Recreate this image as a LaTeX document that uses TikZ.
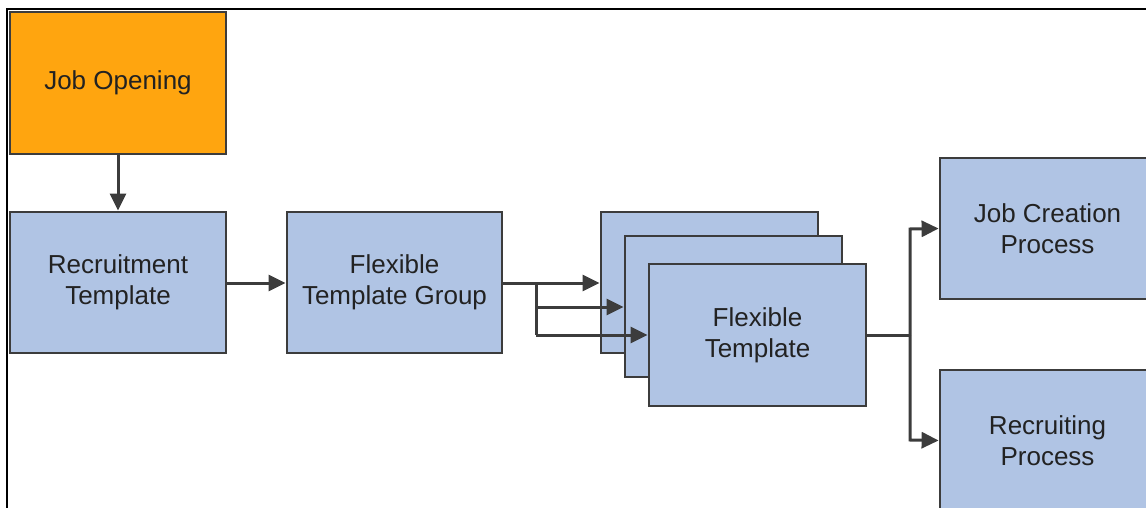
\documentclass[tikz,border=0pt]{standalone}
\usepackage{fontspec}
\setmainfont{Liberation Sans}
\usetikzlibrary{arrows.meta}
\definecolor{boxblue}{HTML}{B0C4E4}
\definecolor{boxorange}{HTML}{FFA50F}
\definecolor{edge}{HTML}{3C3C3C}
\definecolor{txt}{HTML}{222222}
\tikzset{
  box/.style={draw=edge, line width=2.8pt, fill=boxblue, text=txt, align=center,
    font=\fontsize{26}{31}\selectfont, inner sep=0pt},
  conn/.style={draw=edge, line width=3pt, -{Triangle[length=17pt,width=16pt]}},
  seg/.style={draw=edge, line width=3pt},
}
\begin{document}
\begin{tikzpicture}[x=1pt,y=-1pt]
\useasboundingbox (0,0) rectangle (1146,508);
\begin{scope}
\clip (0,0) rectangle (1146,508);
% frame
\draw[black, line width=1.5pt] (7,508) -- (7,9) -- (1146,9);
% boxes
\node[box, fill=boxorange, minimum width=216pt, minimum height=142pt] (jo) at (118,83) {Job Opening};
\node[box, minimum width=216pt, minimum height=141pt] (rt) at (118,282.5) {Recruitment\\Template};
\node[box, minimum width=215pt, minimum height=141pt] (ftg) at (394.5,282.5) {Flexible\\Template Group};
\node[box, minimum width=217pt, minimum height=141pt] (ft1) at (709.5,282.5) {};
\node[box, minimum width=217pt, minimum height=141pt] (ft2) at (733.5,306.5) {};
\node[box, minimum width=217pt, minimum height=142pt] (ft3) at (757.5,335) {Flexible\\Template};
\node[box, minimum width=215pt, minimum height=141pt] (jcp) at (1047.5,228.5) {Job Creation\\Process};
\node[box, minimum width=215pt, minimum height=141pt] (rp) at (1047.5,440.5) {Recruiting\\Process};
\end{scope}
% connectors
\draw[conn] (jo.south) -- (rt.north);
\draw[conn] (rt.east |- 0,283) -- (ftg.west |- 0,283);
\coordinate (b1) at (536,283);
\draw[conn] (ftg.east |- 0,283) -- (ft1.west |- 0,283);
\draw[seg] (b1) -- (536,335);
\draw[conn] (536,307) -- (ft2.west |- 0,307);
\draw[conn] (536,335) -- (ft3.west |- 0,335);
\coordinate (b2) at (910,335);
\draw[seg] (ft3.east) -- (b2);
\draw[conn] (b2) -- (910,229) -- (jcp.west);
\draw[conn] (b2) -- (910,440) -- (rp.west);
\end{tikzpicture}
\end{document}
